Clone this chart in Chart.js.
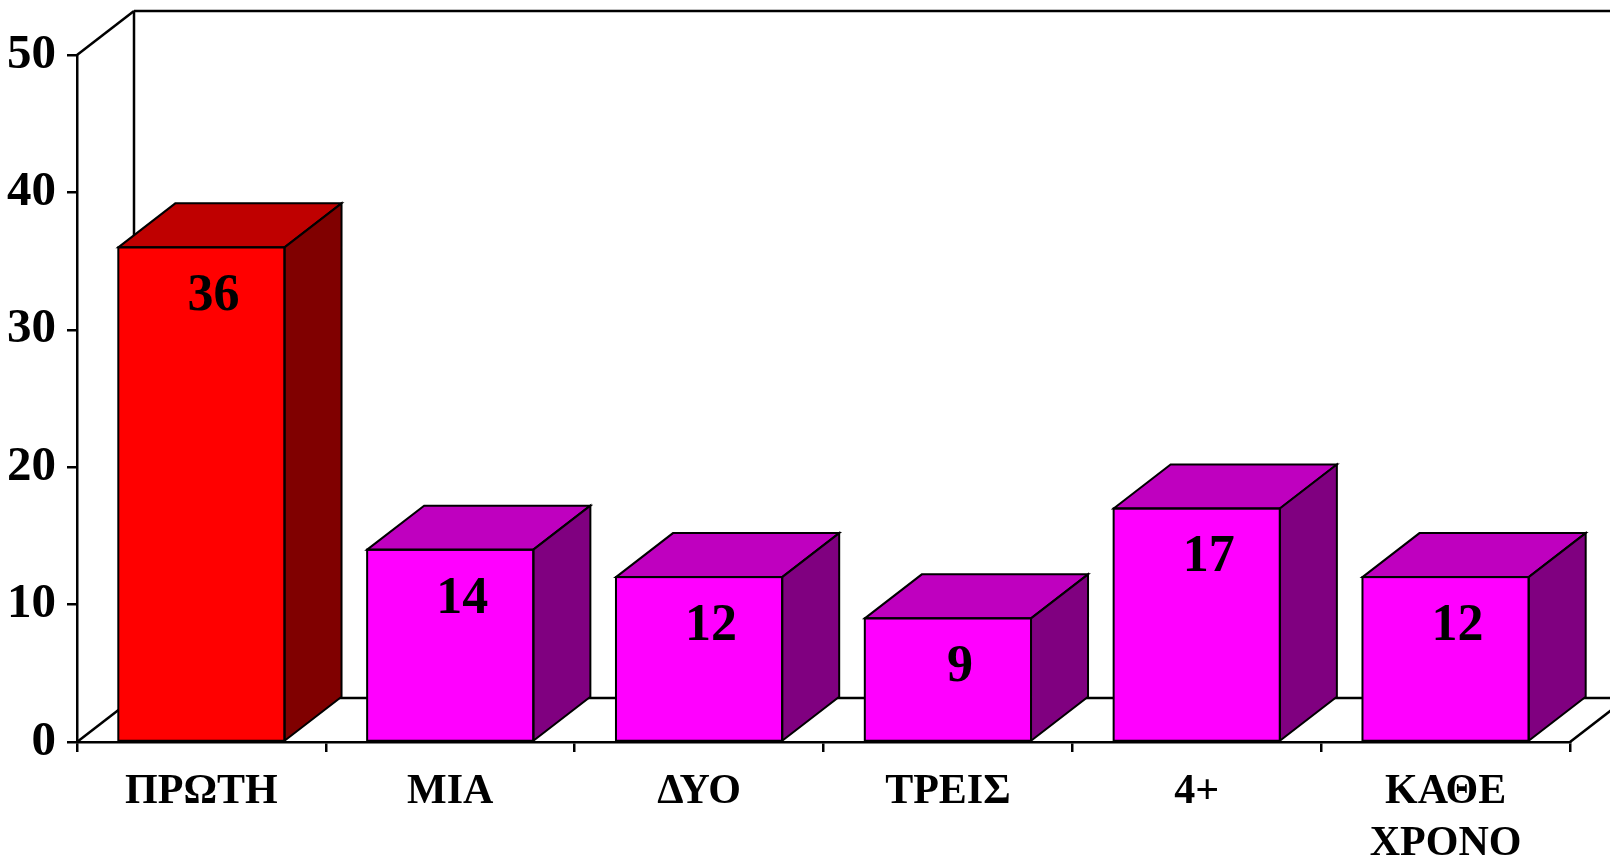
<!DOCTYPE html>
<html>
<head>
<meta charset="utf-8">
<script src="https://cdn.jsdelivr.net/npm/chart.js@4.4.0/dist/chart.umd.min.js"></script>
<style>
html, body { margin: 0; padding: 0; background: #ffffff; }
#wrap { width: 1610px; height: 860px; }
</style>
</head>
<body>
<div id="wrap"><canvas id="chart" width="1610" height="860"></canvas></div>
<script>
// Chart data
const categories = ['ΠΡΩΤΗ', 'ΜΙΑ', 'ΔΥΟ', 'ΤΡΕΙΣ', '4+', ['ΚΑΘΕ', 'ΧΡΟΝΟ']];
const values = [36, 14, 12, 9, 17, 12];
const yTicks = [0, 10, 20, 30, 40, 50];

// Colours: front / top / side faces
const frontColors = ['#ff0000', '#ff00ff', '#ff00ff', '#ff00ff', '#ff00ff', '#ff00ff'];
const topColors = ['#bf0000', '#bf00bf', '#bf00bf', '#bf00bf', '#bf00bf', '#bf00bf'];
const sideColors = ['#800000', '#800080', '#800080', '#800080', '#800080', '#800080'];

// 3D depth offset
const DX = 57;
const DY = 44;
const FONT = "'Liberation Serif', 'Times New Roman', Tinos, serif";

function line(ctx, x1, y1, x2, y2) {
    ctx.beginPath();
    ctx.moveTo(x1, y1);
    ctx.lineTo(x2, y2);
    ctx.stroke();
}

function poly(ctx, pts, fill) {
    ctx.beginPath();
    ctx.moveTo(pts[0][0], pts[0][1]);
    for (let i = 1; i < pts.length; i++) ctx.lineTo(pts[i][0], pts[i][1]);
    ctx.closePath();
    ctx.fillStyle = fill;
    ctx.fill();
    ctx.stroke();
}

// Walls and floor behind the bars
const wallsPlugin = {
    id: 'walls',
    beforeDatasetsDraw(chart) {
        const { ctx, chartArea: a } = chart;
        ctx.save();
        ctx.strokeStyle = '#000';
        ctx.lineWidth = 2.5;
        line(ctx, a.left, a.top, a.left + DX, a.top - DY);
        line(ctx, a.left + DX, a.top - DY, a.right + DX, a.top - DY);
        line(ctx, a.left + DX, a.top - DY, a.left + DX, a.bottom - DY);
        line(ctx, a.left + DX, a.bottom - DY, a.right + DX, a.bottom - DY);
        line(ctx, a.left, a.bottom, a.left + DX, a.bottom - DY);
        line(ctx, a.right, a.bottom, a.right + DX, a.bottom - DY);
        line(ctx, a.right + DX, a.top - DY, a.right + DX, a.bottom - DY);
        ctx.restore();
    }
};

// Top and side faces plus value labels
const boxPlugin = {
    id: 'box3d',
    afterDatasetsDraw(chart) {
        const { ctx } = chart;
        const meta = chart.getDatasetMeta(0);
        ctx.save();
        ctx.strokeStyle = '#000';
        ctx.lineWidth = 2;
        meta.data.forEach((bar, i) => {
            const p = bar.getProps(['x', 'y', 'base', 'width'], true);
            const l = p.x - p.width / 2;
            const r = p.x + p.width / 2;
            poly(ctx, [[l, p.y], [l + DX, p.y - DY], [r + DX, p.y - DY], [r, p.y]], topColors[i]);
            poly(ctx, [[r, p.y], [r + DX, p.y - DY], [r + DX, p.base - DY], [r, p.base]], sideColors[i]);
            ctx.strokeRect(l, p.y, p.width, p.base - p.y);
        });
        ctx.fillStyle = '#000';
        ctx.font = 'bold 52px ' + FONT;
        ctx.textAlign = 'center';
        ctx.textBaseline = 'alphabetic';
        meta.data.forEach((bar, i) => {
            const p = bar.getProps(['x', 'y'], true);
            ctx.fillText(String(values[i]), p.x + 12, p.y + 63);
        });
        ctx.restore();
    }
};

function draw() {
    new Chart(document.getElementById('chart'), {
        type: 'bar',
        data: {
            labels: categories,
            datasets: [{
                data: values,
                backgroundColor: frontColors,
                borderWidth: 0,
                categoryPercentage: 1,
                barPercentage: 0.668
            }]
        },
        options: {
            responsive: false,
            animation: false,
            events: [],
            layout: { padding: { top: 55, right: 40, left: 0, bottom: 0 } },
            plugins: { legend: { display: false }, tooltip: { enabled: false } },
            scales: {
                x: {
                    grid: { drawOnChartArea: false, drawTicks: true, tickLength: 10, color: '#000', lineWidth: 2.5, offset: true },
                    border: { display: true, color: '#000', width: 2.5 },
                    ticks: {
                        color: '#000',
                        font: { family: FONT, size: 42, weight: 'bold', lineHeight: 1.22 },
                        padding: 15,
                        maxRotation: 0,
                        autoSkip: false
                    },
                    afterFit(scale) { scale.height = 118; }
                },
                y: {
                    min: 0,
                    max: 50,
                    afterBuildTicks(scale) { scale.ticks = yTicks.map(v => ({ value: v })); },
                    grid: { drawOnChartArea: false, drawTicks: true, tickLength: 10, color: '#000', lineWidth: 2.5 },
                    border: { display: true, color: '#000', width: 2.5 },
                    ticks: {
                        color: '#000',
                        font: { family: FONT, size: 49, weight: 'bold' },
                        padding: 11
                    },
                    afterFit(scale) { scale.width = 77; }
                }
            }
        },
        plugins: [wallsPlugin, boxPlugin]
    });
}

// make sure the serif font is ready before the canvas uses it
Promise.all([
    document.fonts.load("bold 49px 'Liberation Serif'", 'ΠΡΩΤΗ 0123456789'),
    document.fonts.load("bold 42px 'Liberation Serif'", 'ΚΑΘΕ ΧΡΟΝΟ')
]).then(draw, draw);
</script>
</body>
</html>
